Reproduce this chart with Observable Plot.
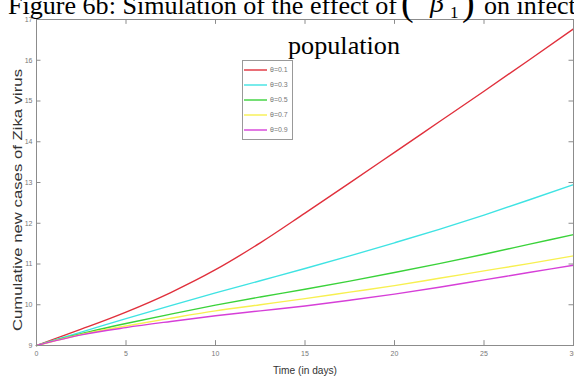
<!DOCTYPE html>
<html><head><meta charset="utf-8">
<script src="https://cdn.jsdelivr.net/npm/d3@7"></script>
<script src="https://cdn.jsdelivr.net/npm/@observablehq/plot@0.6"></script>
<style>
html,body{margin:0;padding:0;background:#fff;overflow:hidden;}
#wrap{position:relative;width:574px;height:376px;overflow:hidden;}
#wrap svg{position:absolute;left:0;top:0;}
</style></head><body><div id="wrap"></div>
<script>
// ---- data ----
const days = [0, 2.5, 5, 7.5, 10, 12.5, 15, 17.5, 20, 22.5, 25, 27.5, 30];
const seriesNames = ["θ=0.1", "θ=0.3", "θ=0.5", "θ=0.7", "θ=0.9"];
const theta01 = [9, 9.40, 9.82, 10.30, 10.86, 11.52, 12.25, 12.99, 13.74, 14.49, 15.24, 16.00, 16.77];
const theta03 = [9, 9.33, 9.66, 9.98, 10.29, 10.59, 10.89, 11.20, 11.52, 11.85, 12.20, 12.57, 12.95];
const theta05 = [9, 9.29, 9.54, 9.77, 9.99, 10.19, 10.38, 10.58, 10.79, 11.01, 11.24, 11.48, 11.72];
const theta07 = [9, 9.27, 9.48, 9.67, 9.85, 10.00, 10.15, 10.31, 10.47, 10.65, 10.83, 11.01, 11.20];
const theta09 = [9, 9.26, 9.44, 9.59, 9.73, 9.85, 9.97, 10.11, 10.26, 10.43, 10.61, 10.79, 10.97];
const seriesColors = ["#e0303c", "#3fe3e3", "#3ad23a", "#f7f050", "#d63fd8"];
const xTicks = [0, 5, 10, 15, 20, 25, 30];
const yTicks = [9, 10, 11, 12, 13, 14, 15, 16, 17];
const xLabel = "Time (in days)";
const yLabel = "Cumulative new cases of Zika virus";
const titleLine1 = "Figure 6b: Simulation of the effect of";
const titleTail = "on infected";
const titleLine2 = "population";

const allSeries = [theta01, theta03, theta05, theta07, theta09];
const rows = [];
allSeries.forEach((vals, k) => vals.forEach((v, i) => rows.push({t: days[i], v, s: seriesNames[k]})));

const gray = "#8c8c8c";
const chart = Plot.plot({
  width: 574, height: 376,
  marginLeft: 36, marginRight: 1, marginTop: 19, marginBottom: 31,
  x: {domain: [0, 30]},
  y: {domain: [9, 17]},
  color: {domain: seriesNames, range: seriesColors},
  style: {background: "transparent", fontFamily: "'Liberation Sans', Arial, sans-serif"},
  marks: [
    Plot.ruleX(xTicks, {y1: 9, y2: 9.12, stroke: gray}),
    Plot.ruleX(xTicks, {y1: 16.88, y2: 17, stroke: gray}),
    Plot.ruleY(yTicks, {x1: 0, x2: 0.25, stroke: gray}),
    Plot.ruleY(yTicks, {x1: 29.75, x2: 30, stroke: gray}),
    Plot.axisX({ticks: xTicks, tickSize: 0, tickPadding: 6, fontSize: 7, fill: "#777", label: null}),
    Plot.axisY({ticks: yTicks, tickSize: 0, tickPadding: 4, fontSize: 7, fill: "#777", label: null}),
    Plot.line(rows, {x: "t", y: "v", stroke: "s", strokeWidth: 1.4, curve: "monotone-x"}),
    Plot.frame({stroke: gray})
  ]
});
document.getElementById("wrap").appendChild(chart);

// ---- overlay: axis titles, title, legend ----
const ov = d3.select("#wrap").append("svg").attr("width", 574).attr("height", 376);
const sans = "'Liberation Sans', Arial, sans-serif";
const serif = "'Liberation Serif', 'Times New Roman', serif";

ov.append("text").attr("x", 305).attr("y", 370).attr("dy", "0.35em").attr("text-anchor", "middle")
  .attr("font-family", sans).attr("font-size", 11).attr("fill", "#333")
  .attr("textLength", 64).attr("lengthAdjust", "spacingAndGlyphs").text(xLabel);
ov.append("text").attr("transform", "translate(18,200) rotate(-90)").attr("dy", "0.35em")
  .attr("text-anchor", "middle").attr("font-family", sans).attr("font-size", 12).attr("fill", "#333")
  .attr("textLength", 262).attr("lengthAdjust", "spacingAndGlyphs").text(yLabel);

ov.append("text").attr("x", 8).attr("y", 13.5).attr("font-family", serif).attr("font-size", 26)
  .attr("textLength", 389).attr("lengthAdjust", "spacingAndGlyphs").text(titleLine1);
ov.append("text").attr("x", 401).attr("y", 15).attr("font-family", serif).attr("font-size", 38).text("(");
ov.append("text").attr("x", 430).attr("y", 12).attr("font-family", serif).attr("font-size", 28).attr("font-style", "italic").text("β");
ov.append("text").attr("x", 450).attr("y", 18).attr("font-family", serif).attr("font-size", 17).text("1");
ov.append("text").attr("x", 462).attr("y", 15).attr("font-family", serif).attr("font-size", 38).text(")");
ov.append("text").attr("x", 484).attr("y", 13.5).attr("font-family", serif).attr("font-size", 26).text(titleTail);
ov.append("text").attr("x", 288).attr("y", 54).attr("font-family", serif).attr("font-size", 26)
  .attr("textLength", 112).attr("lengthAdjust", "spacingAndGlyphs").text(titleLine2);

const lg = ov.append("g");
lg.append("rect").attr("x", 242.5).attr("y", 60.5).attr("width", 50).attr("height", 79)
  .attr("fill", "#fff").attr("stroke", "#999");
seriesNames.forEach((name, k) => {
  const yy = 70 + k * 15;
  lg.append("line").attr("x1", 244).attr("x2", 267).attr("y1", yy).attr("y2", yy)
    .attr("stroke", seriesColors[k]).attr("stroke-width", 1.4);
  lg.append("text").attr("x", 270).attr("y", yy).attr("dy", "0.35em")
    .attr("font-family", sans).attr("font-size", 7).attr("fill", "#777")
    .text(name);
});
</script></body></html>
